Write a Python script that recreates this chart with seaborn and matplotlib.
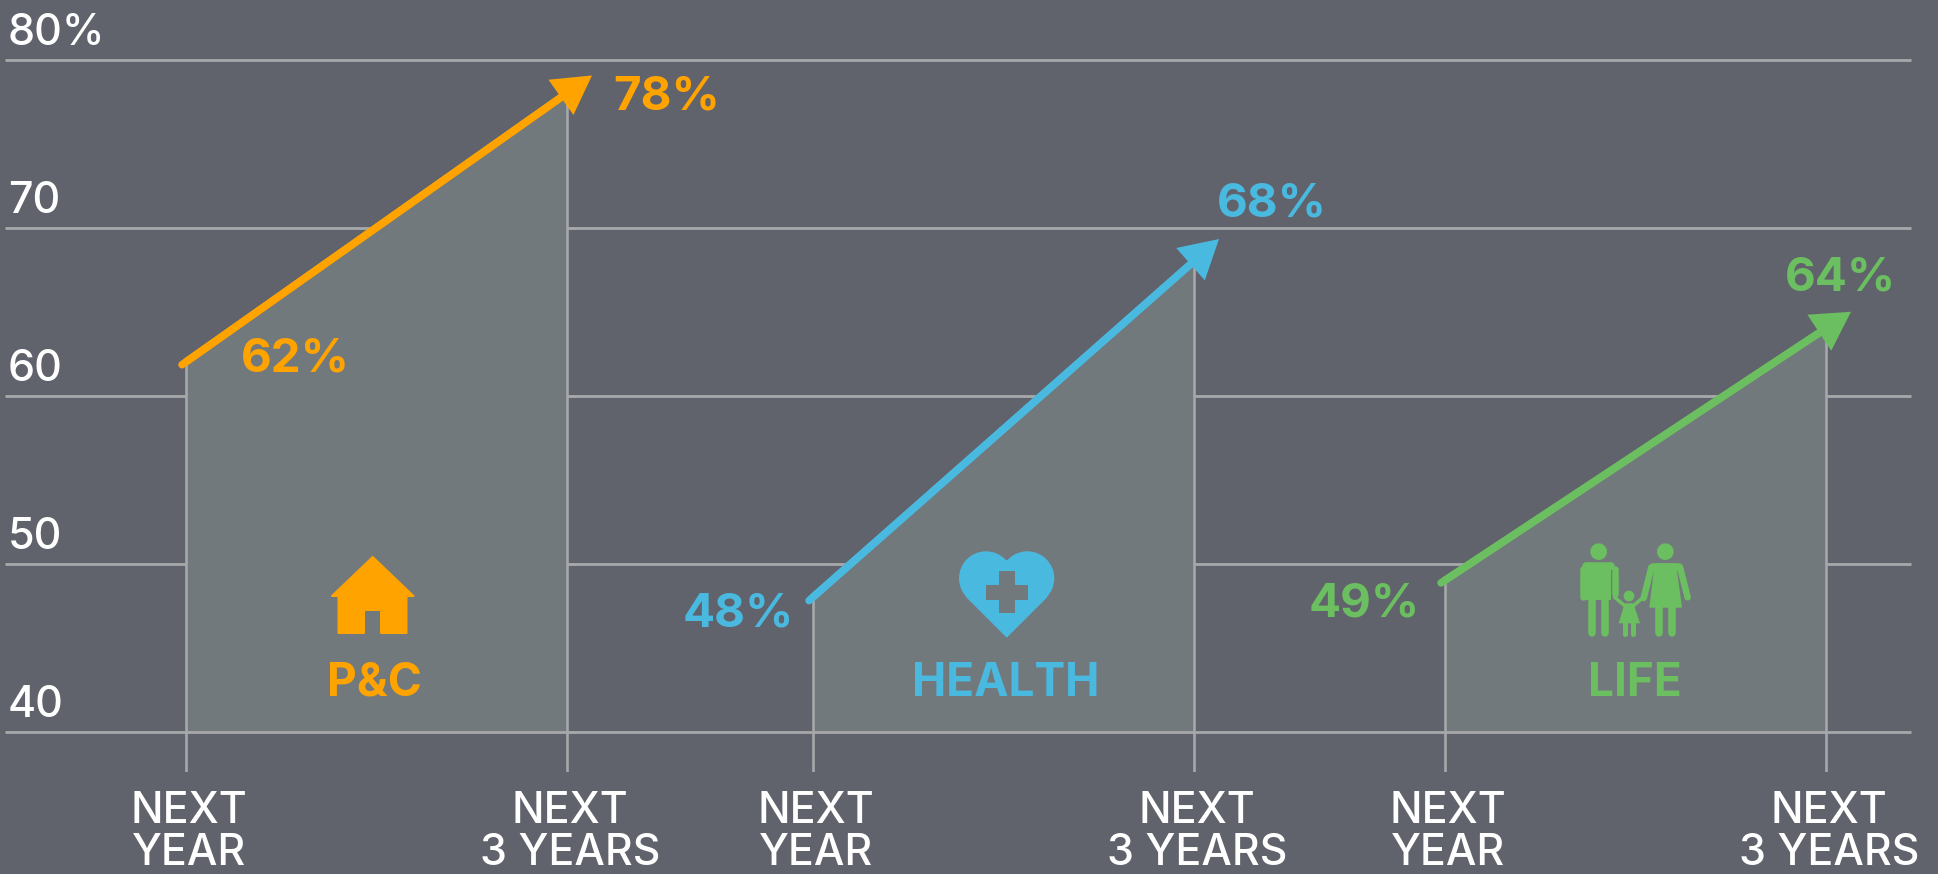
import numpy as np
import pandas as pd
import seaborn as sns
import matplotlib.pyplot as plt
from matplotlib.patches import Polygon, Circle, Rectangle

# values
groups = ['P&C', 'HEALTH', 'LIFE']
next_year = [62, 48, 49]
next_3_years = [78, 68, 64]
periods = ['NEXT\nYEAR', 'NEXT\n3 YEARS']
y_ticks = [40, 50, 60, 70, 80]
y_tick_labels = ['40', '50', '60', '70', '80%']

# layout, in pixels of the 1938x874 picture
group_left = [186, 813, 1445]
group_span = 381
colors = ['#ffa300', '#4ab9e0', '#6cbf60']
bg = '#60636b'
area = '#72797c'
grid = '#a7a8ab'
px_per_unit = 16.8
base_px = 731.5
label_offsets = [((55, 2), (46, -4)), ((-130, -17), (23, 56.5)), ((-136, -24), (-41, 49.5))]
title_x = [374, 1005.5, 1635]

sns.set_theme(style='white', rc={'figure.facecolor': bg, 'axes.facecolor': bg})
plt.rcParams['font.family'] = ['Inter', 'DejaVu Sans']

df = pd.DataFrame({
    'group': np.repeat(groups, 2),
    'pos': np.ravel([[x, x + group_span] for x in group_left]),
    'value': np.ravel(list(zip(next_year, next_3_years))),
})

fig = plt.figure(figsize=(1938 / 72, 874 / 72), dpi=72)
ax = fig.add_axes([0, 102 / 874, 1, 772 / 874])
ax.set_xlim(0, 1938)
ax.set_ylim(40 - (772 - base_px) / px_per_unit, 80 + (base_px - 672) / px_per_unit)
sns.despine(ax=ax, left=True, bottom=True)

# gridlines sit under the areas, only the 40 line goes over them
ax.hlines(y_ticks[1:], 5, 1911, color=grid, lw=2.8, zorder=1)
ax.hlines(y_ticks[0], 5, 1911, color=grid, lw=2.8, zorder=4)

for i, g in enumerate(groups):
    x0 = group_left[i]
    x1 = x0 + group_span
    v0 = next_year[i]
    v1 = next_3_years[i]
    ax.fill_between([x0, x1], [v0, v1], 40, color=area, lw=0, zorder=2)
    ax.vlines([x0, x1], ax.get_ylim()[0], [v0, v1], color=grid, lw=2.6, zorder=3)

sns.lineplot(data=df, x='pos', y='value', hue='group', palette=colors, hue_order=groups,
             legend=False, lw=7.5, ax=ax, zorder=5)

for i, g in enumerate(groups):
    x0 = group_left[i]
    x1 = x0 + group_span
    v0 = next_year[i]
    v1 = next_3_years[i]
    # the arrow runs a bit past both ends of the segment
    t0 = -4 / group_span
    t1 = 1 + 25 / group_span
    tm = 1 - 10 / group_span
    ax.annotate('', xy=(x0 + t1 * (x1 - x0), v0 + t1 * (v1 - v0)),
                xytext=(x0 + t0 * (x1 - x0), v0 + t0 * (v1 - v0)),
                arrowprops=dict(arrowstyle='-', color=colors[i], lw=7.5, shrinkA=0, shrinkB=22,
                                capstyle='round'),
                zorder=6)
    # head on its own with no outline so the corners stay sharp
    ax.annotate('', xy=(x0 + t1 * (x1 - x0), v0 + t1 * (v1 - v0)),
                xytext=(x0 + tm * (x1 - x0), v0 + tm * (v1 - v0)),
                arrowprops=dict(arrowstyle='-|>,head_length=0.95,head_width=0.54', fc=colors[i],
                                ec='none', lw=0, shrinkA=0, shrinkB=0, mutation_scale=40),
                zorder=6)
    ax.annotate(f'{v0}%', (x0, v0), xytext=label_offsets[i][0], textcoords='offset points',
                color=colors[i], fontsize=47.5, fontweight='bold', va='center', ha='left', zorder=7)
    ax.annotate(f'{v1}%', (x1, v1), xytext=label_offsets[i][1], textcoords='offset points',
                color=colors[i], fontsize=47.5, fontweight='bold', va='center', ha='left', zorder=7)

for v, lab in zip(y_ticks, y_tick_labels):
    ax.annotate(lab, (8, v), xytext=(0, 5.5), textcoords='offset points', color='white',
                fontsize=43, fontweight='medium', va='bottom', ha='left')

tick_pos = np.ravel([[x + 3, x + group_span + 3] for x in group_left])
ax.set_xticks(tick_pos, periods * len(groups))
ax.set_yticks([])
ax.set_xlabel('')
ax.set_ylabel('')
ax.tick_params(axis='x', length=0, pad=19, labelsize=43, labelcolor='white')
for lab in ax.get_xticklabels():
    lab.set_linespacing(1.03)
    lab.set_fontweight('medium')

# overlay in picture pixels for the icons and group names
ov = fig.add_axes([0, 0, 1, 1], facecolor='none')
ov.set_xlim(0, 1938)
ov.set_ylim(874, 0)
ov.axis('off')

for g, x, c in zip(groups, title_x, colors):
    ov.text(x, 684, g, color=c, fontsize=46, fontweight='bold', ha='center', va='center')


def poly(pts, c, lw=0):
    ov.add_patch(Polygon(pts, closed=True, fc=c, ec=c, lw=lw, joinstyle='round'))


# house
c = colors[0]
poly([(372.7, 557), (332, 596), (338.5, 596), (338.5, 633), (364, 633), (364, 610), (381, 610),
      (381, 633), (406.5, 633), (406.5, 596), (413.5, 596)], c, lw=2)

# heart with a cross cut out
c = colors[1]
ov.add_patch(Circle((986, 578.3), 27, fc=c, lw=0))
ov.add_patch(Circle((1027.3, 578.3), 27, fc=c, lw=0))
poly([(986, 578), (966, 597), (1006.7, 637.7), (1047.5, 597), (1027, 578), (1006.7, 560)], c)
ov.add_patch(Rectangle((986, 584.7), 42, 15.3, fc=area, lw=0))
ov.add_patch(Rectangle((999, 571), 15.7, 42.3, fc=area, lw=0))


# family, coordinates taken from a 3x crop at (1530, 520)
def fx(x):
    return 1530 + x / 3


def fy(y):
    return 520 + y / 3


def limb(x0, y0, x1, y1, w, c):
    ov.plot([fx(x0), fx(x1)], [fy(y0), fy(y1)], color=c, lw=w, solid_capstyle='round')


def head(x, y, r, c):
    ov.add_patch(Circle((fx(x), fy(y)), r / 3, fc=c, lw=0))


c = colors[2]
head(206, 95, 25, c)
limb(158, 148, 158, 232, 6.5, c)
limb(254, 148, 254, 222, 6.5, c)
limb(168, 138, 244, 138, 7.5, c)
poly([(fx(168), fy(128)), (fx(244), fy(128)), (fx(244), fy(240)), (fx(168), fy(240))], c)
limb(186, 235, 186, 338, 7.5, c)
limb(226, 235, 226, 338, 7.5, c)

head(406, 95, 25, c)
limb(364, 142, 341, 234, 6.5, c)
limb(450, 142, 473, 232, 6.5, c)
limb(368, 140, 446, 140, 7.5, c)
poly([(fx(374), fy(130)), (fx(438), fy(130)), (fx(456), fy(263)), (fx(358), fy(263))], c)
limb(387, 260, 387, 338, 7.5, c)
limb(427, 260, 427, 338, 7.5, c)

head(297, 228, 16, c)
limb(254, 232, 285, 258, 3.5, c)
limb(340, 232, 309, 258, 3.5, c)
poly([(fx(284), fy(250)), (fx(310), fy(250)), (fx(330), fy(310)), (fx(266), fy(310))], c)
limb(286, 305, 286, 341, 5, c)
limb(308, 305, 308, 341, 5, c)

fig.savefig('out.png', dpi=72, facecolor=bg)
